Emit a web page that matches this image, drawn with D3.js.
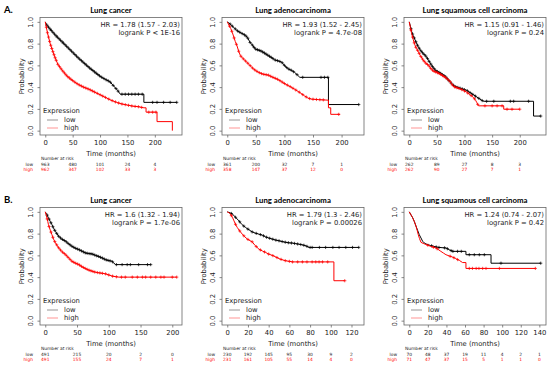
<!DOCTYPE html>
<html>
<head>
<meta charset="utf-8">
<script src="https://cdn.jsdelivr.net/npm/d3@7"></script>
<style>
body { margin: 0; background: #fff; }
svg { display: block; }
</style>
</head>
<body>
<div id="chart"></div>
<script>
// values: [months, survival probability]
var titles = ['Lung cancer', 'Lung adenocarcinoma', 'Lung squamous cell carcinoma',
              'Lung cancer', 'Lung adenocarcinoma', 'Lung squamous cell carcinoma'];
var hrLabels = ['HR = 1.78 (1.57 - 2.03)', 'HR = 1.93 (1.52 - 2.45)', 'HR = 1.15 (0.91 - 1.46)',
                'HR = 1.6 (1.32 - 1.94)', 'HR = 1.79 (1.3 - 2.46)', 'HR = 1.24 (0.74 - 2.07)'];
var pLabels = ['logrank P < 1E-16', 'logrank P = 4.7e-08', 'logrank P = 0.24',
               'logrank P = 1.7e-06', 'logrank P = 0.00026', 'logrank P = 0.42'];
var timeTicks = [[0, 50, 100, 150, 200], [0, 50, 100, 150, 200], [0, 50, 100, 150, 200],
                 [0, 50, 100, 150, 200], [0, 20, 40, 60, 80, 100, 120], [0, 20, 40, 60, 80, 100, 120, 140]];
var probTicks = [0, 0.2, 0.4, 0.6, 0.8, 1.0];
var riskLow = [[963, 480, 101, 24, 4], [361, 200, 32, 7, 1], [262, 89, 27, 8, 3],
               [491, 215, 20, 2, 0], [230, 192, 145, 95, 30, 9, 2], [70, 48, 37, 19, 11, 4, 2, 1]];
var riskHigh = [[962, 347, 102, 33, 3], [358, 147, 37, 12, 0], [262, 90, 27, 7, 1],
                [491, 155, 24, 7, 1], [231, 161, 105, 55, 14, 4, 0], [71, 47, 37, 15, 5, 1, 1, 0]];

var a1Low = [[0,1],[3,0.97],[7,0.945],[12,0.915],[20,0.87],[30,0.82],[40,0.77],[50,0.72],[60,0.67],[70,0.625],
  [80,0.58],[90,0.54],[100,0.5],[110,0.47],[118,0.45],[125,0.41],[132,0.37],[137,0.335],[180,0.335],[180,0.26],[240,0.26]];
var a1High = [[0,1],[2,0.95],[4,0.9],[6,0.86],[9,0.8],[13,0.74],[18,0.67],[23,0.61],[30,0.56],[40,0.5],[50,0.46],
  [60,0.425],[70,0.4],[80,0.38],[90,0.355],[100,0.33],[110,0.305],[120,0.28],[130,0.26],[140,0.245],[150,0.235],
  [160,0.225],[170,0.22],[180,0.21],[184,0.21],[184,0.17],[204,0.17],[204,0.083],[232,0.083],[232,0]];
var a2Low = [[0,1],[5,0.98],[10,0.955],[17,0.92],[25,0.895],[32,0.875],[36,0.85],[40,0.81],[45,0.78],[49,0.75],
  [55,0.74],[60,0.73],[66,0.71],[72,0.69],[78,0.67],[83,0.65],[90,0.64],[95,0.63],[100,0.6],[106,0.57],[112,0.555],
  [118,0.535],[123,0.51],[127,0.49],[177,0.49],[177,0.24],[230,0.24]];
var a2High = [[0,1],[3,0.97],[6,0.94],[9,0.9],[11.5,0.86],[14,0.82],[17,0.78],[20,0.73],[23,0.69],[27,0.665],
  [32,0.64],[38,0.61],[43,0.58],[49,0.555],[55,0.535],[62,0.52],[72,0.51],[80,0.49],[89,0.47],[95,0.45],[101,0.43],
  [110,0.405],[118,0.38],[127,0.35],[135,0.32],[141,0.3],[147,0.29],[160,0.285],[177,0.28],[177,0.21],[181,0.21],
  [181,0.15],[197,0.15]];
var a3Low = [[0,1],[2,0.96],[4,0.915],[7,0.875],[10,0.84],[13,0.805],[16,0.775],[20,0.74],[25,0.71],[31,0.68],
  [35,0.645],[38,0.62],[42,0.59],[47,0.556],[52,0.54],[56,0.53],[60,0.515],[65,0.5],[70,0.47],[74,0.447],[78,0.425],
  [83,0.406],[92,0.39],[104,0.37],[110,0.35],[116,0.33],[122,0.31],[128,0.29],[134,0.27],[225,0.27],[225,0.134],[238,0.134]];
var a3High = [[0,1],[2,0.95],[4,0.9],[7,0.84],[10,0.79],[13,0.755],[16,0.73],[20,0.69],[25,0.65],[30,0.62],
  [35,0.6],[40,0.565],[44,0.547],[50,0.535],[56,0.52],[62,0.5],[68,0.48],[74,0.45],[80,0.406],[86,0.395],[92,0.384],
  [98,0.37],[104,0.353],[110,0.33],[116,0.306],[120,0.28],[122,0.26],[125.5,0.228],[171,0.228],[171,0.197],[200,0.197]];
var b1Low = [[0,1],[3,0.97],[5,0.945],[8,0.91],[10.5,0.883],[13,0.85],[16,0.82],[21,0.776],[26,0.75],[32,0.73],
  [37,0.705],[42,0.684],[47,0.667],[53,0.653],[58,0.638],[63,0.623],[68,0.617],[74,0.613],[79,0.6],[84,0.59],
  [90,0.575],[95,0.56],[100,0.552],[105,0.546],[108,0.53],[110.5,0.515],[166,0.515]];
var b1High = [[0,1],[1.5,0.97],[2.6,0.945],[4,0.91],[5,0.883],[8,0.83],[10.5,0.79],[13,0.75],[16,0.715],[21,0.67],
  [26,0.635],[32,0.607],[37,0.575],[42,0.546],[47,0.53],[53,0.515],[58,0.495],[63,0.48],[68,0.466],[74,0.454],
  [79,0.445],[84,0.44],[90,0.435],[95,0.43],[100,0.42],[105,0.41],[110,0.405],[116,0.4],[207,0.4]];
var b2Low = [[0,1],[3,0.99],[5,0.98],[8,0.95],[11.3,0.917],[14,0.885],[17.7,0.856],[21,0.835],[24,0.816],[27,0.805],
  [30.6,0.795],[34,0.785],[37,0.77],[40,0.76],[43.5,0.75],[47,0.74],[50,0.734],[53,0.727],[56.5,0.72],[60,0.715],
  [63,0.713],[66,0.708],[69,0.703],[72,0.698],[76,0.688],[79,0.673],[127,0.673]];
var b2High = [[0,1],[2,0.99],[3,0.98],[5,0.95],[6.5,0.917],[8,0.885],[9.7,0.856],[12,0.825],[14.5,0.795],[17,0.77],
  [19.4,0.75],[22,0.735],[24,0.725],[27,0.69],[30.6,0.657],[34,0.64],[37,0.627],[40,0.612],[43.5,0.6],[47,0.585],
  [50,0.57],[53,0.56],[56.5,0.55],[60,0.545],[63,0.54],[103,0.54],[103,0.367],[113.5,0.367]];
var b3Low = [[0,1],[2,0.97],[3.6,0.947],[5.5,0.91],[7.2,0.87],[9,0.83],[10.8,0.79],[12.6,0.76],[14.4,0.73],[16,0.715],
  [18,0.705],[23,0.69],[30.5,0.674],[39.5,0.668],[43,0.652],[46.7,0.637],[61,0.637],[61,0.606],[88,0.606],[88,0.528],[141.5,0.528]];
var b3High = [[0,1],[2,0.97],[3.6,0.947],[5.5,0.91],[7.2,0.87],[8.5,0.83],[9.7,0.79],[11,0.755],[12.6,0.72],[15,0.71],
  [18,0.7],[23,0.683],[28.7,0.668],[31,0.655],[34,0.637],[37,0.62],[39.5,0.606],[43,0.595],[46.7,0.584],[50,0.57],
  [54,0.553],[57.4,0.534],[61,0.534],[61,0.48],[135.7,0.48]];

// censoring times (months)
var a1LowCens = [3,6,9,11,14,17,20,22,25,28,31,33,36,39,42,45,48,51,54,57,60,63,66,69,72,75,78,81,84,87,90,93,96,99,
  103,107,111,115,119,124,129,133,140,146,152,158,164,170,177,196,204,216,228,240];
var a1HighCens = [2,4,6,8,10,12,14,16,18,20,23,26,29,32,35,38,41,44,47,50,54,58,62,66,70,74,78,82,86,90,95,100,105,
  110,116,122,128,134,140,146,152,158,164,170,176,189,196,202];
var a2LowCens = [5,9,14,18,22,26,30,33,36,40,44,47,50,53,56,59,62,65,68,71,74,77,80,84,88,92,96,100,104,108,112,116,
  122,132,164,170,176,230];
var a2HighCens = [4,8,12,16,20,24,28,32,36,40,44,48,52,56,60,64,68,72,76,80,84,88,92,96,100,105,110,115,120,126,132,
  138,144,150,156,162,168,195];
var a3LowCens = [3,6,9,12,15,18,21,24,27,30,33,36,39,42,45,48,51,54,57,60,63,66,69,72,76,80,84,88,92,96,100,105,110,
  115,120,126,132,140,153,183,189,216,238];
var a3HighCens = [3,6,9,12,15,18,21,24,27,30,33,36,39,42,45,48,51,54,57,60,63,66,70,74,78,82,86,90,95,100,106,112,118,
  124,137,150,159,168,177,186,200];
var b1LowCens = [3,6,9,12,15,18,21,24,27,30,33,36,39,42,45,48,51,54,57,60,63,66,69,72,75,78,81,84,87,90,93,96,99,102,
  106,112,121,129,134,147,161,166];
var b1HighCens = [3,6,9,12,15,18,21,24,27,30,33,36,39,42,45,48,51,54,57,60,63,66,69,72,75,78,82,86,90,95,100,106,112,
  120,126,137,145,153,158,166,174,182,187,200,207];
var b2LowCens = [4,8,12,16,20,24,28,32,35,38,41,44,47,50,53,56,59,62,65,68,71,74,77,80,82,89,95,102,108,114.5,121,127];
var b2HighCens = [4,8,12,16,20,24,28,32,36,40,44,48,52,56,60,63,68,72.6,77,82,85.5,88.7,92,97,113.5];
var b3LowCens = [24,29,32,38,41,45,47,52,56,64.6,70,75.4,80.8,98.7,141.5];
var b3HighCens = [20,26,30,44,48,52,64.6,68,72,75,79,82.6,97,135.7];

var panels = [
  { low: a1Low, high: a1High, lowCens: a1LowCens, highCens: a1HighCens },
  { low: a2Low, high: a2High, lowCens: a2LowCens, highCens: a2HighCens },
  { low: a3Low, high: a3High, lowCens: a3LowCens, highCens: a3HighCens },
  { low: b1Low, high: b1High, lowCens: b1LowCens, highCens: b1HighCens },
  { low: b2Low, high: b2High, lowCens: b2LowCens, highCens: b2HighCens },
  { low: b3Low, high: b3High, lowCens: b3LowCens, highCens: b3HighCens }
];

var RED = '#ff0000', INK = '#1a1a1a';
var svg = d3.select('#chart').append('svg')
  .attr('width', 550).attr('height', 369)
  .style('font-family', '"DejaVu Sans", sans-serif');

var bisect = d3.bisector(function(d) { return d[0]; }).right;
function survAt(curve, t) {
  var i = bisect(curve, t);
  var p0 = curve[Math.max(i - 1, 0)], p1 = curve[i];
  if (!p1 || p1[0] === p0[0]) return p0[1];
  return p0[1] + (p1[1] - p0[1]) * (t - p0[0]) / (p1[0] - p0[0]);
}

// section letters
svg.selectAll('text.sec').data(['A.', 'B.']).enter().append('text')
  .attr('class', 'sec')
  .attr('x', 4).attr('y', function(d, i) { return 13 + i * 190; })
  .style('font-family', 'Lato, "Liberation Sans", sans-serif')
  .style('font-weight', 'bold').style('font-size', '9.5px')
  .text(function(d) { return d; });

panels.forEach(function(p, k) {
  var ox = (k % 3) * 182, oy = Math.floor(k / 3) * 190;
  var g = svg.append('g').attr('transform', 'translate(' + ox + ',' + oy + ')');
  var left = 40, right = 182, top = 17.5, bottom = 135;
  var tmax = d3.max(p.low.concat(p.high), function(d) { return d[0]; });
  var x = d3.scaleLinear().domain([-0.04 * tmax, 1.04 * tmax]).range([left, right]);
  var y = d3.scaleLinear().domain([-0.04, 1.04]).range([bottom, top]);

  // title
  g.append('text')
    .attr('x', (left + right) / 2).attr('y', 12.5)
    .attr('text-anchor', 'middle')
    .style('font-family', 'Lato, "Liberation Sans", sans-serif')
    .style('font-weight', 'bold').style('font-size', '7.8px')
    .text(titles[k]);

  // axes
  var xAxis = g.append('g').attr('transform', 'translate(0,' + bottom + ')')
    .call(d3.axisBottom(x).tickValues(timeTicks[k]).tickSize(2.5).tickPadding(2.5));
  var yAxis = g.append('g').attr('transform', 'translate(' + left + ',0)')
    .call(d3.axisLeft(y).tickValues(probTicks).tickFormat(d3.format('.1f')).tickSize(2.5));
  [xAxis, yAxis].forEach(function(a) {
    a.select('.domain').remove();
    a.selectAll('line').attr('stroke', '#555').attr('stroke-width', 0.7);
    a.selectAll('text').attr('fill', INK).style('font-size', '6.8px')
      .style('font-family', '"DejaVu Sans", sans-serif');
  });
  yAxis.selectAll('text')
    .attr('x', null).attr('dy', '0.35em')
    .attr('text-anchor', 'middle')
    .attr('transform', 'translate(-9,0) rotate(-90)');

  g.append('rect')
    .attr('x', left).attr('y', top)
    .attr('width', right - left).attr('height', bottom - top)
    .attr('fill', 'none').attr('stroke', '#666').attr('stroke-width', 0.8);

  // axis titles
  g.append('text')
    .attr('x', (left + right) / 2).attr('y', 155.5)
    .attr('text-anchor', 'middle').attr('fill', INK).style('font-size', '6.8px')
    .text('Time (months)');
  g.append('text')
    .attr('transform', 'translate(22,' + y(0.5) + ') rotate(-90)')
    .attr('dy', '0.35em')
    .attr('text-anchor', 'middle').attr('fill', INK).style('font-size', '6.8px')
    .text('Probability');

  // curves
  var line = d3.line()
    .x(function(d) { return x(d[0]); })
    .y(function(d) { return y(d[1]); });
  var groups = [
    { curve: p.low, cens: p.lowCens, color: '#000' },
    { curve: p.high, cens: p.highCens, color: RED }
  ];
  groups.forEach(function(s) {
    g.append('path').datum(s.curve)
      .attr('d', line)
      .attr('fill', 'none').attr('stroke', s.color).attr('stroke-width', 1);
    g.append('g').selectAll('path.cens').data(s.cens).enter().append('path')
      .attr('class', 'cens')
      .attr('transform', function(t) { return 'translate(' + x(t) + ',' + y(survAt(s.curve, t)) + ')'; })
      .attr('d', 'M-1.6,0H1.6M0,-1.6V1.6')
      .attr('stroke', s.color).attr('stroke-width', 0.7);
  });

  // HR / logrank
  g.append('text')
    .attr('x', right - 2).attr('y', 26.5)
    .attr('text-anchor', 'end').attr('fill', INK).style('font-size', '6.8px')
    .text(hrLabels[k]);
  g.append('text')
    .attr('x', right - 2).attr('y', 34.5)
    .attr('text-anchor', 'end').attr('fill', INK).style('font-size', '6.8px')
    .text(pLabels[k]);

  // legend
  g.append('text')
    .attr('x', left + 3).attr('y', 113)
    .attr('fill', INK).style('font-size', '6.8px')
    .text('Expression');
  [['low', '#000', 120], ['high', RED, 128]].forEach(function(l) {
    g.append('line')
      .attr('x1', left + 7).attr('x2', left + 18)
      .attr('y1', l[2]).attr('y2', l[2])
      .attr('stroke', l[1]).attr('stroke-width', 0.6).attr('stroke-opacity', 0.7);
    g.append('text')
      .attr('x', left + 24).attr('y', l[2]).attr('dy', '0.35em')
      .attr('fill', INK).style('font-size', '6.8px')
      .text(l[0]);
  });

  // number at risk
  g.append('text')
    .attr('x', left + 1).attr('y', 159.5)
    .attr('fill', INK).style('font-size', '4.4px')
    .text('Number at risk');
  [['low', riskLow[k], INK, 165.5], ['high', riskHigh[k], RED, 171]].forEach(function(r) {
    g.append('text')
      .attr('x', 33).attr('y', r[3])
      .attr('text-anchor', 'end').attr('fill', r[2]).style('font-size', '4.4px')
      .text(r[0]);
    g.selectAll(null).data(r[1]).enter().append('text')
      .attr('x', function(d, i) { return x(timeTicks[k][i]); })
      .attr('y', r[3])
      .attr('text-anchor', 'middle').attr('fill', r[2]).style('font-size', '4.4px')
      .text(function(d) { return d; });
  });
});
</script>
</body>
</html>
